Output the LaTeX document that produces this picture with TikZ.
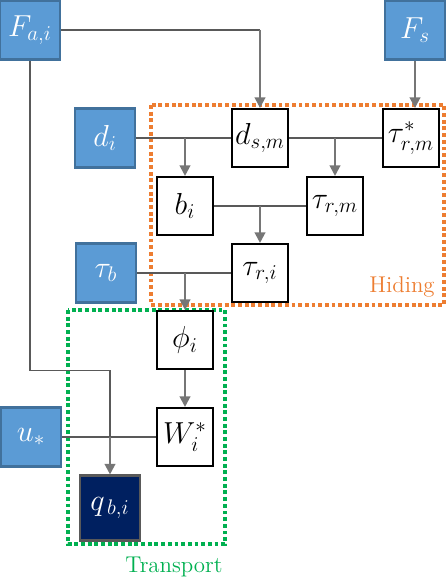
\documentclass[tikz,border=0pt]{standalone}
\usepackage{amsmath, amssymb}
\usepackage{tikz}
\usetikzlibrary{arrows.meta, positioning, calc}
\definecolor{inBlue}{HTML}{5B9BD5}
\definecolor{inEdge}{HTML}{41719C}
\definecolor{hideOrange}{HTML}{ED7D31}
\definecolor{transGreen}{HTML}{00B050}
\definecolor{outNavy}{HTML}{002060}
\definecolor{lineGray}{HTML}{595959}
\definecolor{tipGray}{HTML}{767676}

\begin{document}
\begin{tikzpicture}[x=0.02cm, y=-0.02cm,
      >={Triangle[width=6pt, length=6pt]},
      inbox/.style={rectangle, draw=inEdge, line width=1.2pt, fill=inBlue,
                    minimum width=1.2cm, minimum height=1.18cm, inner sep=1pt,
                    text=white, font=\fontsize{18}{21}\selectfont},
      var/.style={rectangle, draw=black, line width=1.2pt, fill=white,
                  minimum width=1.12cm, minimum height=1.16cm, inner sep=1pt,
                  font=\fontsize{18}{21}\selectfont},
      link/.style={draw=lineGray, line width=0.6pt},
      feed/.style={->, draw=tipGray, line width=1.2pt},
      zone/.style={line width=2pt, dash pattern=on 2.2pt off 1.6pt},
      tag/.style={font=\fontsize{13}{15}\selectfont}]
    \useasboundingbox (0,0) rectangle (447,580);

    % groups
    \draw[zone, hideOrange] (151,105) rectangle (444,305);
    \draw[zone, transGreen] (68,310) rectangle (225,544);
    \node[tag, text=hideOrange] (hiding) at (402,287) {Hiding};
    \node[tag, text=transGreen] (transport) at (174,567) {Transport};

    % inputs
    \node[inbox] (fai) at (30,30)   {$F_{a,i}$};
    \node[inbox] (fs)  at (415,30)  {$F_s$};
    \node[inbox] (di)  at (105,138) {$d_i$};
    \node[inbox] (tb)  at (106,273) {$\tau_b$};
    \node[inbox] (us)  at (31,437)  {$u_*$};

    % model variables
    \node[var] (dsm) at (260,138) {$d_{s,m}$};
    \node[var] (tsm) at (411,138) {$\tau^*_{r,m}$};
    \node[var] (bi)  at (185,206) {$b_i$};
    \node[var] (trm) at (335,206) {$\tau_{r,m}$};
    \node[var] (tri) at (260,273) {$\tau_{r,i}$};
    \node[var] (phi) at (185,340) {$\phi_i$};
    \node[var] (wi)  at (185,437) {$W_i^*$};
    \node[var, fill=outNavy, draw=lineGray, text=white,
          minimum width=1.2cm, minimum height=1.3cm] (qbi) at (110,508) {$q_{\,b,i}$};

    % links
    \draw[link] (fai.east) -- (fai.east -| dsm);
    \draw[feed] (fai.east -| dsm) -- (dsm.north);
    \draw[feed] (fs) -- (fs |- tsm.north);
    \draw[link] (di) -- (dsm);
    \draw[link] (dsm) -- (tsm);
    \draw[feed] (bi |- di) -- (bi);
    \draw[feed] (trm |- dsm) -- (trm);
    \draw[link] (bi) -- (trm);
    \draw[feed] (tri |- bi) -- (tri);
    \draw[link] (tb) -- (tri);
    \draw[feed] (phi |- tb) -- (phi);
    \draw[feed] (phi) -- (wi);
    \draw[link] (us) -- (wi);
    \draw[link] (fai.south) -- (fai |- phi.south) -- (qbi |- phi.south)
          -- (qbi |- us);
    \draw[feed] (qbi |- us) -- (qbi.north);
  \end{tikzpicture}
\end{document}
